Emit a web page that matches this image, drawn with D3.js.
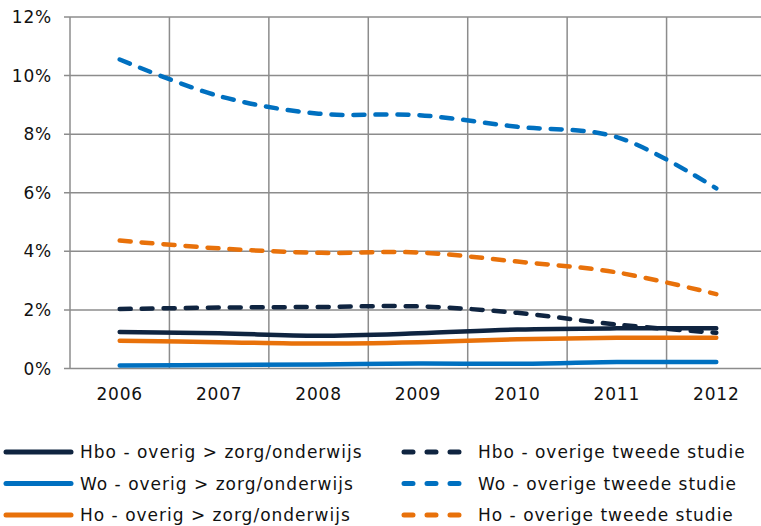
<!DOCTYPE html>
<html><head><meta charset="utf-8">
<script src="https://cdn.jsdelivr.net/npm/d3@7"></script>
<style>body{margin:0;background:#fff;}svg{display:block;font-family:"DejaVu Sans",Verdana,sans-serif;}</style>
</head><body>
<svg id="c" width="761" height="526"></svg>
<script>
const years = ["2006","2007","2008","2009","2010","2011","2012"];
const hboOverig = [1.25,1.20,1.12,1.20,1.33,1.37,1.37];
const woOverig = [0.10,0.12,0.14,0.17,0.16,0.22,0.22];
const hoOverig = [0.95,0.90,0.85,0.90,1.00,1.05,1.05];
const hboTweede = [2.03,2.08,2.10,2.12,1.90,1.50,1.22];
const woTweede = [10.55,9.30,8.70,8.65,8.25,7.90,6.15];
const hoTweede = [4.37,4.10,3.95,3.96,3.65,3.28,2.54];
const yTicks = [0,2,4,6,8,10,12];
const seriesNames = ["Hbo - overig > zorg/onderwijs","Wo - overig > zorg/onderwijs","Ho - overig > zorg/onderwijs","Hbo - overige tweede studie","Wo - overige tweede studie","Ho - overige tweede studie"];

(function(){
const navy="#0f2440", blue="#0070c0", orange="#e8710a";
const series = [
  {name:seriesNames[0], values:hboOverig, color:navy, dash:null},
  {name:seriesNames[1], values:woOverig, color:blue, dash:null},
  {name:seriesNames[2], values:hoOverig, color:orange, dash:null},
  {name:seriesNames[3], values:hboTweede, color:navy, dash:"11,11"},
  {name:seriesNames[4], values:woTweede, color:blue, dash:"11,11"},
  {name:seriesNames[5], values:hoTweede, color:orange, dash:"11,11"}
];

const svg = d3.select("#c");
const pLeft=70, pRight=766, pTop=17, pBottom=368.5;
const x = d3.scaleBand().domain(years).range([pLeft,pRight]);
const y = d3.scaleLinear().domain([0,12]).range([pBottom,pTop]);
const grid="#8c8c8c";

svg.append("g").selectAll("line").data(yTicks).join("line")
  .attr("x1",pLeft-6).attr("x2",pRight).attr("y1",d=>y(d)).attr("y2",d=>y(d))
  .attr("stroke",grid).attr("stroke-width",1.5);
svg.append("g").selectAll("line").data(years).join("line")
  .attr("x1",d=>x(d)).attr("x2",d=>x(d)).attr("y1",pTop).attr("y2",pBottom)
  .attr("stroke",grid).attr("stroke-width",1.5);

svg.append("g").selectAll("text").data(yTicks).join("text")
  .attr("x",52).attr("y",d=>y(d)).attr("dy","0.36em").attr("text-anchor","end")
  .attr("font-size",17).attr("letter-spacing",0.8).attr("fill","#111").text(d=>d+"%");
svg.append("g").selectAll("text").data(years).join("text")
  .attr("x",d=>x(d)+x.bandwidth()/2).attr("y",pBottom+31).attr("text-anchor","middle")
  .attr("font-size",17).attr("letter-spacing",0.8).attr("fill","#111").text(d=>d);

const line = d3.line().x((d,i)=>x(years[i])+x.bandwidth()/2).y(d=>y(d)).curve(d3.curveCatmullRom.alpha(0.5));
const order=[1,2,0,5,4,3];
svg.append("g").selectAll("path").data(order.map(i=>series[i])).join("path")
  .attr("d",d=>line(d.values)).attr("fill","none").attr("stroke",d=>d.color)
  .attr("stroke-width",4.5).attr("stroke-linecap","round").attr("stroke-linejoin","round")
  .attr("stroke-dasharray",d=>d.dash);

const lg = svg.append("g");
series.forEach((s,i)=>{
  const col = i<3?0:1, row=i%3;
  const yy = 452 + row*31.5;
  const x0 = col===0?4:402, x1 = col===0?73:471;
  lg.append("line").attr("x1",x0+2).attr("x2",x1-2).attr("y1",yy).attr("y2",yy)
    .attr("stroke",s.color).attr("stroke-width",5).attr("stroke-linecap","round")
    .attr("stroke-dasharray",s.dash?"9,14":null);
  lg.append("text").attr("x",col===0?80:478).attr("y",yy).attr("dy","0.36em")
    .attr("font-size",17).attr("letter-spacing",1).attr("fill","#111").text(s.name);
});
})();
</script>
</body></html>
